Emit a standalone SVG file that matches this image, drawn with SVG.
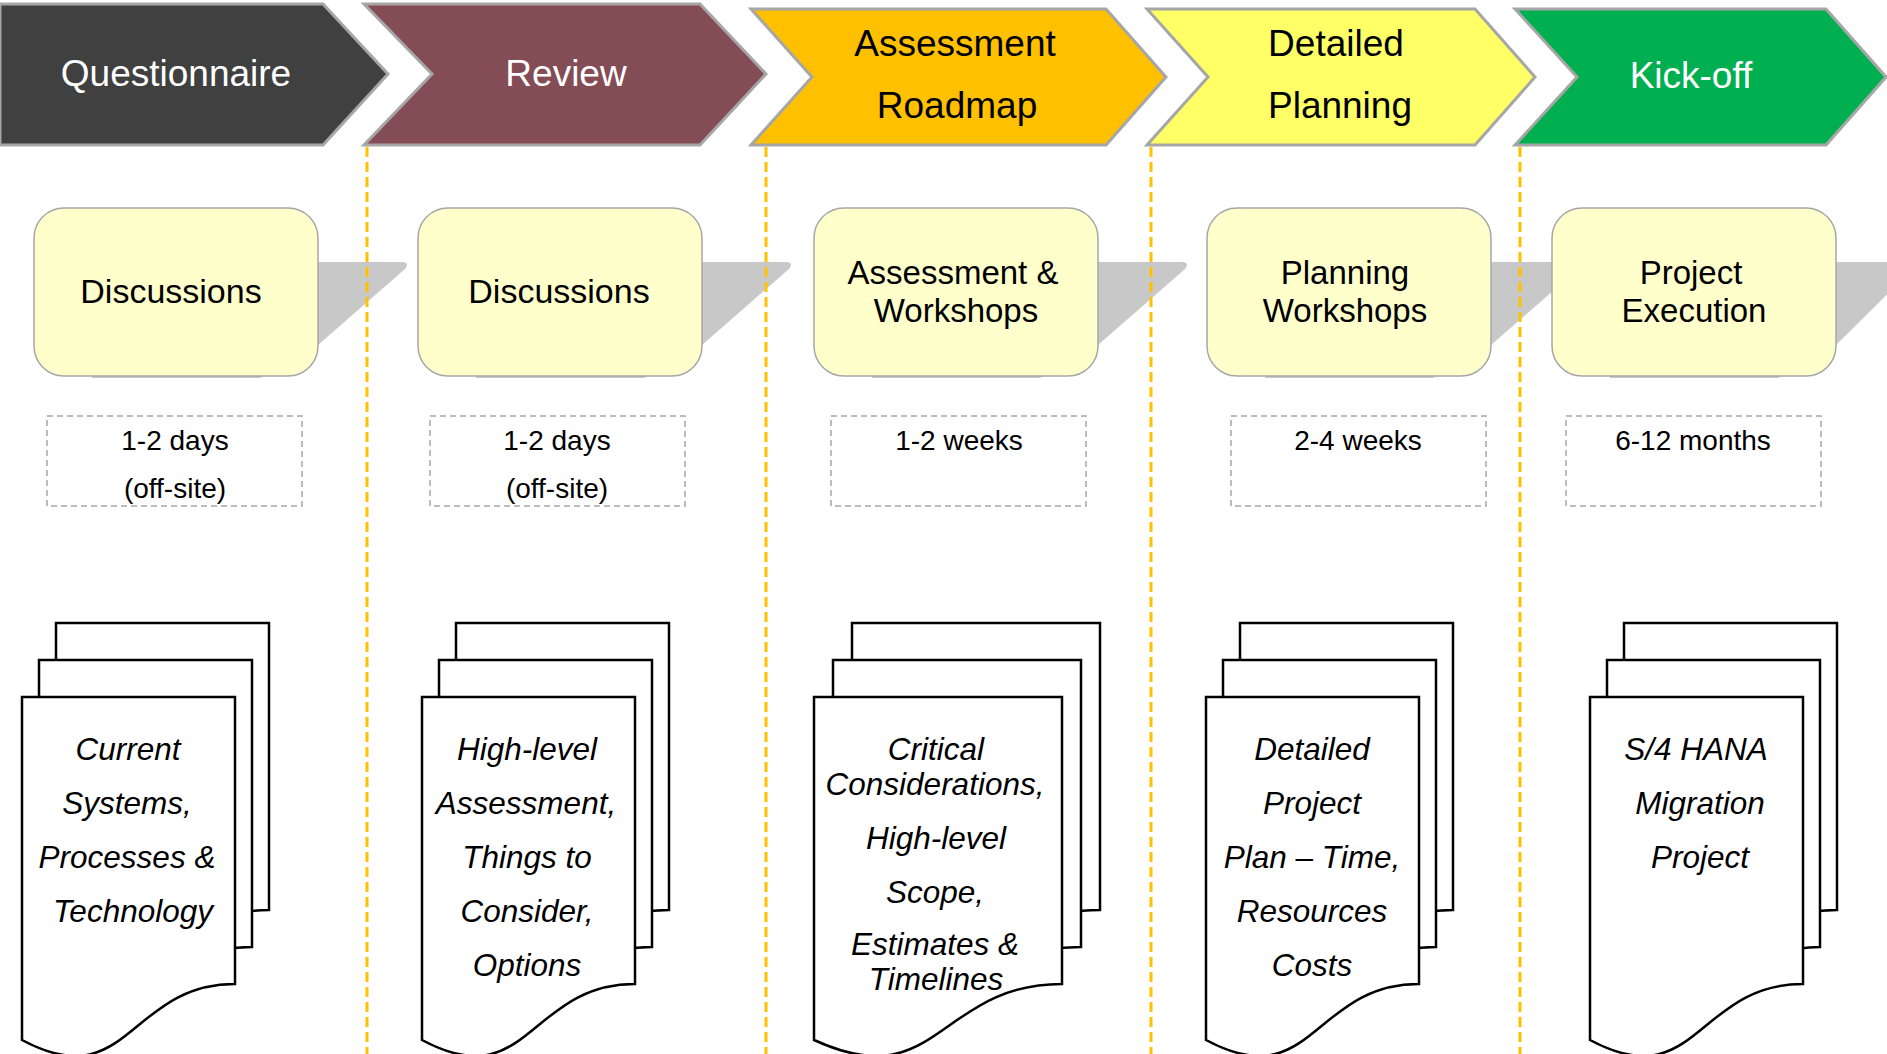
<svg xmlns="http://www.w3.org/2000/svg" xmlns:xlink="http://www.w3.org/1999/xlink" width="1887" height="1054" viewBox="0 0 1887 1054">
<style>
.chev{stroke:#A6A6A6;stroke-width:3;stroke-linejoin:miter}
.ttl{font-family:"Liberation Sans",Arial,sans-serif;font-size:37px;text-anchor:middle}
.box{fill:#FFFFCC;stroke:#A6A6A6;stroke-width:1.5}
.tail{fill:#C8C8C8}
.btxt{font-family:"Liberation Sans",Arial,sans-serif;font-size:34px;text-anchor:middle;fill:#000}
.btxt2{font-family:"Liberation Sans",Arial,sans-serif;font-size:33px;text-anchor:middle;fill:#000}
.dbox{fill:none;stroke:#A6A6A6;stroke-width:1.5;stroke-dasharray:6 4}
.dtxt{font-family:"Liberation Sans",Arial,sans-serif;font-size:28px;text-anchor:middle;fill:#000}
.page{fill:#FFFFFF;stroke:#000;stroke-width:2.5;stroke-linejoin:miter}
.doc{font-family:"Liberation Sans",Arial,sans-serif;font-size:31.5px;font-style:italic;text-anchor:middle;fill:#000}
.sep{stroke:#FFC000;stroke-width:3;stroke-dasharray:10 5;fill:none}
</style>
<defs>
<path id="pg" class="page" d="M0,0 H213 V287 C106.5,287 106.5,400 0,343 Z"/>
<path id="pgw" class="page" d="M0,0 H248 V287 C124,287 124,400 0,343 Z"/>
</defs>
<rect width="1887" height="1054" fill="#FFFFFF"/>

<!-- Phase chevrons -->
<g id="phase-questionnaire">
<path class="chev" fill="#404040" d="M0,4 H323 L388,74 L323,145 H0 Z"/>
<text class="ttl" x="176" y="86" fill="#FFFFFF">Questionnaire</text>
</g>
<g id="phase-review">
<path class="chev" fill="#844C55" d="M364,4 H700 L766,74 L700,145 H364 L432,74 Z"/>
<text class="ttl" x="566" y="86" fill="#FFFFFF">Review</text>
</g>
<g id="phase-assessment">
<path class="chev" fill="#FFC000" d="M751,9 H1106 L1166,77 L1106,145 H751 L812,77 Z"/>
<text class="ttl" x="955" y="56" fill="#000000">Assessment</text>
<text class="ttl" x="957" y="118" fill="#000000">Roadmap</text>
</g>
<g id="phase-detailed">
<path class="chev" fill="#FFFF66" d="M1147,9 H1475 L1535,77 L1475,145 H1147 L1208,77 Z"/>
<text class="ttl" x="1336" y="56" fill="#000000">Detailed</text>
<text class="ttl" x="1340" y="118" fill="#000000">Planning</text>
</g>
<g id="phase-kickoff">
<path class="chev" fill="#00B050" d="M1515,9 H1826 L1886,77 L1826,145 H1515 L1577,77 Z"/>
<text class="ttl" x="1691" y="88" fill="#FFFFFF">Kick-off</text>
</g>

<!-- Activity tails (grey arrows behind boxes) -->
<g id="tails">
<path class="tail" d="M92,262 H402 Q410,262 405,269 L318,345 L260,378 H92 Z"/>
<path class="tail" d="M476,262 H786 Q794,262 789,269 L702,345 L644,378 H476 Z"/>
<path class="tail" d="M872,262 H1182 Q1190,262 1185,269 L1098,345 L1040,378 H872 Z"/>
<path class="tail" d="M1265,262 H1575 Q1583,262 1578,269 L1491,345 L1433,378 H1265 Z"/>
<path class="tail" d="M1610,262 H1920 L1836,345 L1778,378 H1610 Z"/>
</g>

<!-- Separators -->
<g id="connectors">
<line class="sep" x1="367" y1="147" x2="367" y2="1054"/>
<line class="sep" x1="766" y1="147" x2="766" y2="1054"/>
<line class="sep" x1="1151" y1="147" x2="1151" y2="1054"/>
<line class="sep" x1="1520" y1="147" x2="1520" y2="1054"/>
</g>

<!-- Activity boxes -->
<g id="act-1">
<rect class="box" x="34" y="208" width="284" height="168" rx="30"/>
<text class="btxt" x="171" y="303">Discussions</text>
</g>
<g id="act-2">
<rect class="box" x="418" y="208" width="284" height="168" rx="30"/>
<text class="btxt" x="559" y="303">Discussions</text>
</g>
<g id="act-3">
<rect class="box" x="814" y="208" width="284" height="168" rx="30"/>
<text class="btxt2" x="953" y="284">Assessment &amp;</text>
<text class="btxt2" x="956" y="322">Workshops</text>
</g>
<g id="act-4">
<rect class="box" x="1207" y="208" width="284" height="168" rx="30"/>
<text class="btxt2" x="1345" y="284">Planning</text>
<text class="btxt2" x="1345" y="322">Workshops</text>
</g>
<g id="act-5">
<rect class="box" x="1552" y="208" width="284" height="168" rx="30"/>
<text class="btxt2" x="1691" y="284">Project</text>
<text class="btxt2" x="1694" y="322">Execution</text>
</g>

<!-- Durations -->
<g id="dur-1">
<rect class="dbox" x="47" y="416" width="255" height="90"/>
<text class="dtxt" x="175" y="450">1-2 days</text>
<text class="dtxt" x="175" y="498">(off-site)</text>
</g>
<g id="dur-2">
<rect class="dbox" x="430" y="416" width="255" height="90"/>
<text class="dtxt" x="557" y="450">1-2 days</text>
<text class="dtxt" x="557" y="498">(off-site)</text>
</g>
<g id="dur-3">
<rect class="dbox" x="831" y="416" width="255" height="90"/>
<text class="dtxt" x="959" y="450">1-2 weeks</text>
</g>
<g id="dur-4">
<rect class="dbox" x="1231" y="416" width="255" height="90"/>
<text class="dtxt" x="1358" y="450">2-4 weeks</text>
</g>
<g id="dur-5">
<rect class="dbox" x="1566" y="416" width="255" height="90"/>
<text class="dtxt" x="1693" y="450">6-12 months</text>
</g>

<!-- Deliverable documents -->
<g id="doc-1">
<use xlink:href="#pg" href="#pg" x="56" y="623"/>
<use xlink:href="#pg" href="#pg" x="39" y="660"/>
<use xlink:href="#pg" href="#pg" x="22" y="697"/>
<text class="doc" x="128" y="760">Current</text>
<text class="doc" x="127" y="814">Systems,</text>
<text class="doc" x="127" y="868">Processes &amp;</text>
<text class="doc" x="133" y="922">Technology</text>
</g>
<g id="doc-2">
<use xlink:href="#pg" href="#pg" x="456" y="623"/>
<use xlink:href="#pg" href="#pg" x="439" y="660"/>
<use xlink:href="#pg" href="#pg" x="422" y="697"/>
<text class="doc" x="527" y="760">High-level</text>
<text class="doc" x="526" y="814">Assessment,</text>
<text class="doc" x="527" y="868">Things to</text>
<text class="doc" x="527" y="922">Consider,</text>
<text class="doc" x="527" y="976">Options</text>
</g>
<g id="doc-3">
<use xlink:href="#pgw" href="#pgw" x="852" y="623"/>
<use xlink:href="#pgw" href="#pgw" x="833" y="660"/>
<use xlink:href="#pgw" href="#pgw" x="814" y="697"/>
<text class="doc" x="936" y="760">Critical</text>
<text class="doc" x="935" y="795">Considerations,</text>
<text class="doc" x="936" y="849">High-level</text>
<text class="doc" x="935" y="903">Scope,</text>
<text class="doc" x="935" y="955">Estimates &amp;</text>
<text class="doc" x="936" y="990">Timelines</text>
</g>
<g id="doc-4">
<use xlink:href="#pg" href="#pg" x="1240" y="623"/>
<use xlink:href="#pg" href="#pg" x="1223" y="660"/>
<use xlink:href="#pg" href="#pg" x="1206" y="697"/>
<text class="doc" x="1312" y="760">Detailed</text>
<text class="doc" x="1312" y="814">Project</text>
<text class="doc" x="1312" y="868">Plan – Time,</text>
<text class="doc" x="1312" y="922">Resources</text>
<text class="doc" x="1312" y="976">Costs</text>
</g>
<g id="doc-5">
<use xlink:href="#pg" href="#pg" x="1624" y="623"/>
<use xlink:href="#pg" href="#pg" x="1607" y="660"/>
<use xlink:href="#pg" href="#pg" x="1590" y="697"/>
<text class="doc" x="1696" y="760">S/4 HANA</text>
<text class="doc" x="1700" y="814">Migration</text>
<text class="doc" x="1700" y="868">Project</text>
</g>
</svg>
